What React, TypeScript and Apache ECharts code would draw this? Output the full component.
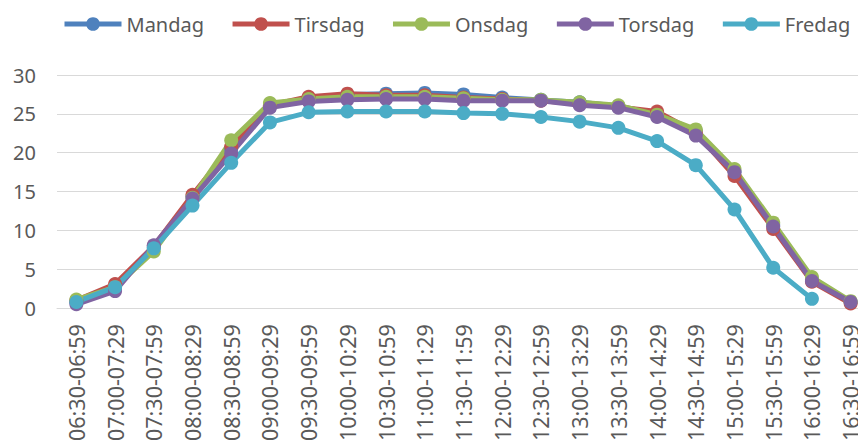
import React, { useEffect, useRef } from "react";
import * as echarts from "echarts";

const categories = [
  "06:30-06:59", "07:00-07:29", "07:30-07:59", "08:00-08:29", "08:30-08:59",
  "09:00-09:29", "09:30-09:59", "10:00-10:29", "10:30-10:59", "11:00-11:29",
  "11:30-11:59", "12:00-12:29", "12:30-12:59", "13:00-13:29", "13:30-13:59",
  "14:00-14:29", "14:30-14:59", "15:00-15:29", "15:30-15:59", "16:00-16:29",
  "16:30-16:59",
];

const mandag = [0.8, 2.8, 7.8, 14.4, 20.5, 26.0, 27.0, 27.5, 27.6, 27.7, 27.5, 27.1, 26.8, 26.5, 26.0, 25.0, 22.8, 17.6, 10.7, 3.7, 0.8];
const tirsdag = [1.0, 3.1, 8.0, 14.6, 20.8, 26.1, 27.2, 27.6, 27.4, 27.4, 27.1, 26.9, 26.7, 26.3, 25.9, 25.3, 22.6, 17.0, 10.2, 3.4, 0.6];
const onsdag = [1.1, 2.7, 7.3, 14.2, 21.6, 26.4, 26.9, 27.2, 27.2, 27.2, 27.0, 26.8, 26.8, 26.5, 26.1, 24.9, 23.0, 17.9, 11.0, 4.0, 0.9];
const torsdag = [0.5, 2.2, 8.1, 14.1, 19.9, 25.8, 26.6, 26.8, 26.9, 26.9, 26.7, 26.7, 26.7, 26.1, 25.8, 24.6, 22.2, 17.5, 10.5, 3.5, 0.8];
const fredag = [0.8, 2.7, 7.7, 13.2, 18.7, 23.9, 25.2, 25.3, 25.3, 25.3, 25.1, 25.0, 24.6, 24.0, 23.2, 21.5, 18.4, 12.7, 5.2, 1.2, null];

const seriesNames = ["Mandag", "Tirsdag", "Onsdag", "Torsdag", "Fredag"];
const seriesData = [mandag, tirsdag, onsdag, torsdag, fredag];
const colors = ["#4F81BD", "#C0504D", "#9BBB59", "#8064A2", "#4BACC6"];
const yTicks = { min: 0, max: 30, interval: 5 };

const FONT = "Noto Sans";
const TEXT = "#595959";

export default function App() {
  const ref = useRef<HTMLDivElement>(null);
  useEffect(() => {
    if (!ref.current) return;
    const chart = echarts.init(ref.current, null, { renderer: "svg" });
    chart.setOption({
      animation: false,
      color: colors,
      textStyle: { fontFamily: FONT },
      legend: {
        top: 14,
        left: 62,
        width: 800,
        padding: 0,
        itemWidth: 57,
        itemHeight: 17,
        itemGap: 26,
        lineStyle: { width: 5 },
        textStyle: { fontFamily: FONT, fontSize: 20, color: TEXT },
        data: seriesNames,
      },
      grid: { left: 57, top: 75, width: 813, height: 234, containLabel: false },
      xAxis: {
        type: "category",
        data: categories,
        boundaryGap: true,
        axisLine: { show: true, lineStyle: { color: "#D9D9D9", width: 1 } },
        axisTick: { show: false },
        axisLabel: {
          rotate: 90,
          interval: 0,
          margin: 16,
          fontFamily: FONT,
          fontSize: 21.5,
          color: TEXT,
        },
      },
      yAxis: {
        type: "value",
        min: yTicks.min,
        max: yTicks.max,
        interval: yTicks.interval,
        axisLine: { show: false },
        axisTick: { show: false },
        splitLine: { show: true, lineStyle: { color: "#D9D9D9", width: 1 } },
        axisLabel: { margin: 21, fontFamily: FONT, fontSize: 20, color: TEXT },
      },
      series: seriesNames.map((name, i) => ({
        name,
        type: "line",
        data: seriesData[i],
        symbol: "circle",
        symbolSize: 14,
        showSymbol: true,
        lineStyle: { width: 5, color: colors[i] },
        itemStyle: { color: colors[i] },
        connectNulls: false,
      })),
    });
    return () => chart.dispose();
  }, []);
  return (
    <div style={{ position: "absolute", left: 0, top: 0, width: 858, height: 444, overflow: "hidden" }}>
      <div ref={ref} style={{ width: 872, height: 444 }} />
    </div>
  );
}
